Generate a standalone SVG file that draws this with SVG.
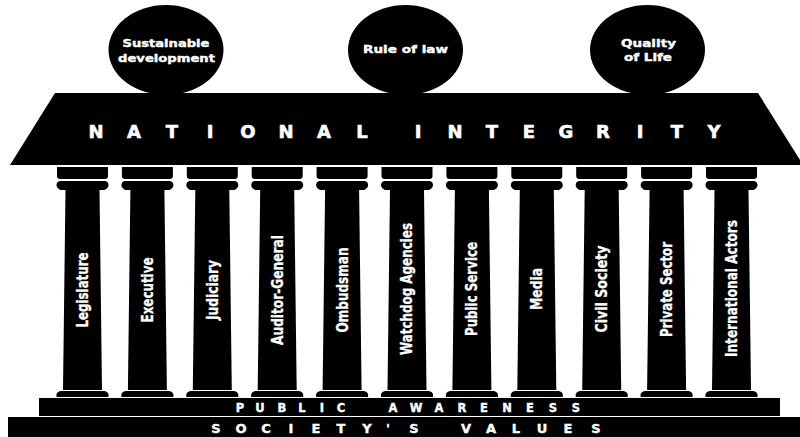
<svg xmlns="http://www.w3.org/2000/svg" xmlns:xlink="http://www.w3.org/1999/xlink" width="800" height="437" viewBox="0 0 800 437">
<style>
.blk{fill:#000}
.goal{font-family:"DejaVu Sans","Liberation Sans",sans-serif;font-weight:bold;font-size:11px;fill:#fff;stroke:#fff;stroke-width:0.4px;text-anchor:middle}
.big{font-family:"DejaVu Sans","Liberation Sans",sans-serif;font-weight:bold;font-size:18px;fill:#fff;stroke:#fff;stroke-width:0.6px;text-anchor:middle}
.band{font-family:"DejaVu Sans","Liberation Sans",sans-serif;font-weight:bold;fill:#fff;stroke:#fff;stroke-width:0.4px;text-anchor:middle}
.lbl{font-family:"DejaVu Sans Condensed","DejaVu Sans","Liberation Sans",sans-serif;font-weight:bold;font-size:15px;fill:#fff;stroke:#fff;stroke-width:0.3px;text-anchor:middle}
</style>
<defs>
<g id="pillarShape" class="blk">
<path d="M-25.5,167 H25.5 V176 Q25.5,179 22.5,179 H-22.5 Q-25.5,179 -25.5,176 Z"/>
<path d="M-23,181 H23 Q26,182 26,185 Q26,188 22,190 H-22 Q-26,188 -26,185 Q-26,182 -23,181 Z"/>
<polygon points="-17,190 17,190 19.5,390 -19.5,390"/>
<path d="M-22,391 H22 Q25,391.5 26,394 V397 H-26 V394 Q-25,391.5 -22,391 Z"/>
</g>
</defs>
<rect width="800" height="437" fill="#fff"/>

<g id="goal-sustainable">
<ellipse class="blk" cx="166" cy="50" rx="57.5" ry="45"/>
<text class="goal" x="166" y="47" textLength="87" lengthAdjust="spacingAndGlyphs">Sustainable</text>
<text class="goal" x="166.5" y="62" textLength="97" lengthAdjust="spacingAndGlyphs">development</text>
</g>
<g id="goal-rule">
<ellipse class="blk" cx="405.5" cy="50" rx="57.5" ry="45"/>
<text class="goal" x="405.5" y="53" textLength="85" lengthAdjust="spacingAndGlyphs">Rule of law</text>
</g>
<g id="goal-quality">
<ellipse class="blk" cx="647.5" cy="50" rx="57.5" ry="45"/>
<text class="goal" x="648.5" y="47" textLength="55" lengthAdjust="spacingAndGlyphs">Quality</text>
<text class="goal" x="648" y="61" textLength="48" lengthAdjust="spacingAndGlyphs">of Life</text>
</g>

<g id="roof">
<polygon class="blk" points="55,93 758,93 800,160 800,165 10,165"/>
<text class="big" y="138" x="96 134 172 210 248 286 324 362">NATIONAL</text>
<text class="big" y="138" x="418 455 492 529 566 603 640 677 714">INTEGRITY</text>
</g>

<g id="pillar-legislature"><use xlink:href="#pillarShape" transform="translate(82.5,0)"/><text class="lbl" transform="translate(87.5,290) rotate(-90)" textLength="75" lengthAdjust="spacingAndGlyphs">Legislature</text></g>
<g id="pillar-executive"><use xlink:href="#pillarShape" transform="translate(147.4,0)"/><text class="lbl" transform="translate(152.5,290) rotate(-90)" textLength="65" lengthAdjust="spacingAndGlyphs">Executive</text></g>
<g id="pillar-judiciary"><use xlink:href="#pillarShape" transform="translate(212.3,0)"/><text class="lbl" transform="translate(217.5,290) rotate(-90)" textLength="60" lengthAdjust="spacingAndGlyphs">Judiciary</text></g>
<g id="pillar-auditor"><use xlink:href="#pillarShape" transform="translate(277.2,0)"/><text class="lbl" transform="translate(282.5,290) rotate(-90)" textLength="110" lengthAdjust="spacingAndGlyphs">Auditor-General</text></g>
<g id="pillar-ombudsman"><use xlink:href="#pillarShape" transform="translate(342.1,0)"/><text class="lbl" transform="translate(347.5,290) rotate(-90)" textLength="85" lengthAdjust="spacingAndGlyphs">Ombudsman</text></g>
<g id="pillar-watchdog"><use xlink:href="#pillarShape" transform="translate(407,0)"/><text class="lbl" transform="translate(412,289) rotate(-90)" textLength="132" lengthAdjust="spacingAndGlyphs">Watchdog Agencies</text></g>
<g id="pillar-publicservice"><use xlink:href="#pillarShape" transform="translate(471.9,0)"/><text class="lbl" transform="translate(477,289) rotate(-90)" textLength="94" lengthAdjust="spacingAndGlyphs">Public Service</text></g>
<g id="pillar-media"><use xlink:href="#pillarShape" transform="translate(536.8,0)"/><text class="lbl" transform="translate(542,289) rotate(-90)" textLength="42" lengthAdjust="spacingAndGlyphs">Media</text></g>
<g id="pillar-civil"><use xlink:href="#pillarShape" transform="translate(601.7,0)"/><text class="lbl" transform="translate(607,289) rotate(-90)" textLength="87" lengthAdjust="spacingAndGlyphs">Civil Society</text></g>
<g id="pillar-private"><use xlink:href="#pillarShape" transform="translate(666.6,0)"/><text class="lbl" transform="translate(672,289.5) rotate(-90)" textLength="95" lengthAdjust="spacingAndGlyphs">Private Sector</text></g>
<g id="pillar-international"><use xlink:href="#pillarShape" transform="translate(731.5,0)"/><text class="lbl" transform="translate(736.5,288.5) rotate(-90)" textLength="137" lengthAdjust="spacingAndGlyphs">International Actors</text></g>

<g id="public-awareness">
<rect class="blk" x="39" y="398" width="741" height="18"/>
<text class="band" font-size="11.5" y="411.5" x="240 260 282 302 322 341">PUBLIC</text>
<text class="band" font-size="11.5" y="411.5" x="393 416 439 462 484 507 530 553 576">AWARENESS</text>
</g>
<g id="societys-values">
<rect class="blk" x="8" y="417" width="792" height="20"/>
<text class="band" font-size="13" y="432.5" x="216 241 266 291 316 341 367 388 414">SOCIETY'S</text>
<text class="band" font-size="13" y="432.5" x="466 491 516 542 568 596">VALUES</text>
</g>
<g id="connectors"/>
</svg>
